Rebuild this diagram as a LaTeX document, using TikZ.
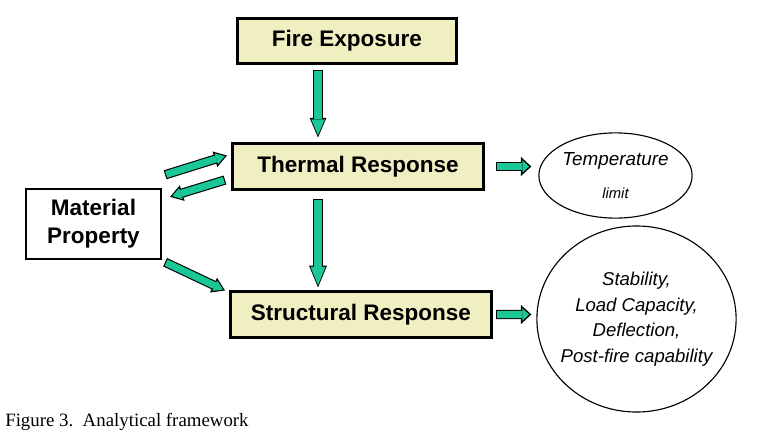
\documentclass[tikz,border=0pt]{standalone}
\usepackage{fontspec}
\setmainfont{Liberation Sans}
\newfontfamily\captionfont{Liberation Serif}
\usetikzlibrary{shapes,arrows.meta,positioning}
\definecolor{boxfill}{RGB}{239,239,194}
\definecolor{arrowgreen}{RGB}{26,199,150}

\begin{document}
\begin{tikzpicture}[x=0.025cm, y=-0.025cm,
    box/.style={rectangle, draw, line width=2pt, fill=boxfill, minimum height=1.13cm, align=center, font=\fontsize{16}{19}\selectfont\bfseries, inner sep=0pt},
    plainbox/.style={rectangle, draw, line width=1.4pt, minimum width=3.38cm, minimum height=1.76cm, align=center, font=\fontsize{16}{19.8}\selectfont\bfseries},
    oval/.style={ellipse, draw, line width=0.8pt, inner sep=0pt},
    fat/.style n args={4}{line width=5pt, draw=arrowgreen, line cap=butt, shorten <=0.8pt, shorten >=1.6pt,
        -{Triangle[length=#3, width=#4, line width=0pt]},
        preaction={draw=black, line width=6.6pt, shorten <=0pt, shorten >=0pt, -{Triangle[length=#1, width=#2, line width=0pt]}}}
]
    \useasboundingbox (0,0) rectangle (762,440);

    % Fire exposure
    \node[box, minimum width=5.48cm] (fire) at (347,41) {Fire Exposure};

    % Responses
    \node[box, minimum width=6.28cm] (thermal) at (358,166.5) {Thermal Response};
    \node[box, minimum width=6.53cm] (structural) at (361,314.5) {Structural Response};

    % Material
    \node[plainbox] (material) at (93.5,224) {Material\\Property};

    % Outcomes
    \node[oval, inner xsep=-3pt, minimum width=3.83cm, minimum height=2.13cm, align=center, font=\itshape\fontsize{13.4}{24}\selectfont] (templimit) at (615.5,175.5) {Temperature\\{\fontsize{10.5}{24}\selectfont limit}};
    \node[oval, inner xsep=-5pt, minimum width=4.98cm, minimum height=4.65cm, align=center, font=\itshape\fontsize{13.2}{18.2}\selectfont] (result) at (636.5,319) {Stability,\\Load Capacity,\\Deflection,\\Post-fire capability};

    % Caption
    \node[anchor=base west, inner sep=0pt, font=\captionfont\fontsize{13.4}{16}\selectfont] (caption) at (5,426) {Figure 3.\ \ Analytical framework};

    % Arrows - main chain
    \draw[fat={14pt}{12pt}{11.2pt}{9.6pt}] ([shift={(-29,5)}]fire.south) -- ([shift={(-40,-5)}]thermal.north);
    \draw[fat={15.6pt}{12.8pt}{13pt}{10.6pt}] ([shift={(-40,8)}]thermal.south) -- ([shift={(-43,-3)}]structural.north);
    \draw[fat={7.4pt}{13.6pt}{4.8pt}{8.9pt}] ([shift={(11,0)}]thermal.east) -- ([shift={(-7,-9)}]templimit.west);
    \draw[fat={7.4pt}{13.6pt}{4.8pt}{8.9pt}] ([shift={(3,0)}]structural.east) -- ([shift={(-5,-4.5)}]result.west);

    % Arrows - material
    \draw[fat={9pt}{11.6pt}{6.4pt}{8.2pt}] ([shift={(3,-13)}]material.north east) -- ([shift={(-4,-11)}]thermal.west);
    \draw[fat={9pt}{11.6pt}{6.4pt}{8.2pt}] ([shift={(-6,13.5)}]thermal.west) -- ([shift={(8,9)}]material.north east);
    \draw[fat={9pt}{11.6pt}{6.4pt}{8.2pt}] ([shift={(3,2)}]material.south east) -- ([shift={(-4,0)}]structural.north west);
\end{tikzpicture}
\end{document}
